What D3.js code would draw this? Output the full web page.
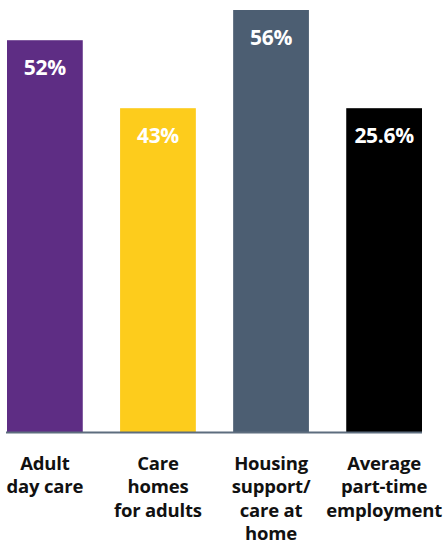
<!DOCTYPE html>
<html>
<head>
<meta charset="utf-8">
<script src="https://cdn.jsdelivr.net/npm/d3@7"></script>
<style>
  html, body { margin: 0; padding: 0; background: #fff; }
  svg { display: block; }
</style>
</head>
<body>
<svg id="chart" width="443" height="544"></svg>
<script>
  const CATEGORIES = [
    ['Adult', 'day care'],
    ['Care', 'homes', 'for adults'],
    ['Housing', 'support/', 'care at', 'home'],
    ['Average', 'part-time', 'employment'],
  ];
  // bar heights as drawn in the picture (the last bar sits at the 43% level)
  const BAR_VALUES = [52, 43, 56, 43];
  const VALUE_LABELS = ['52%', '43%', '56%', '25.6%'];
  const COLORS = ['#5e2d84', '#fdcc1c', '#4c5e72', '#000000'];

  const baseY = 433;

  const svg = d3.select('#chart');

  const x = d3.scaleBand()
    .domain(d3.range(CATEGORIES.length))
    .range([7, 422])
    .paddingInner(0.33)
    .paddingOuter(0);

  const y = d3.scaleLinear().domain([0, 56]).range([baseY, 10]);

  const font = "'Open Sans', 'Noto Sans', sans-serif";

  const bars = svg.selectAll('g.bar').data(BAR_VALUES).join('g')
    .attr('class', 'bar')
    .attr('transform', (d, i) => `translate(${x(i)},0)`);

  bars.append('rect')
    .attr('x', 0)
    .attr('y', d => y(d))
    .attr('width', x.bandwidth())
    .attr('height', d => baseY - y(d))
    .attr('fill', (d, i) => COLORS[i]);

  bars.append('text')
    .attr('x', x.bandwidth() / 2)
    .attr('y', d => y(d) + 35)
    .attr('text-anchor', 'middle')
    .attr('fill', '#fff')
    .attr('font-family', font)
    .attr('font-weight', 700)
    .attr('font-size', 21)
    .attr('letter-spacing', -0.3)
    .text((d, i) => VALUE_LABELS[i]);

  // baseline
  svg.append('line')
    .attr('x1', 6)
    .attr('x2', 422)
    .attr('y1', baseY - 0.5)
    .attr('y2', baseY - 0.5)
    .attr('stroke', '#5d6d7e')
    .attr('stroke-width', 2);

  const labels = svg.selectAll('text.cat').data(CATEGORIES).join('text')
    .attr('class', 'cat')
    .attr('text-anchor', 'middle')
    .attr('fill', '#111')
    .attr('font-family', font)
    .attr('font-weight', 700)
    .attr('font-size', 18.5)
    .attr('letter-spacing', -0.2);

  labels.selectAll('tspan').data((d, i) => d.map(t => ({ t, i }))).join('tspan')
    .attr('x', d => x(d.i) + x.bandwidth() / 2)
    .attr('y', (d, j) => 470 + j * 23.3)
    .text(d => d.t);
</script>
</body>
</html>
